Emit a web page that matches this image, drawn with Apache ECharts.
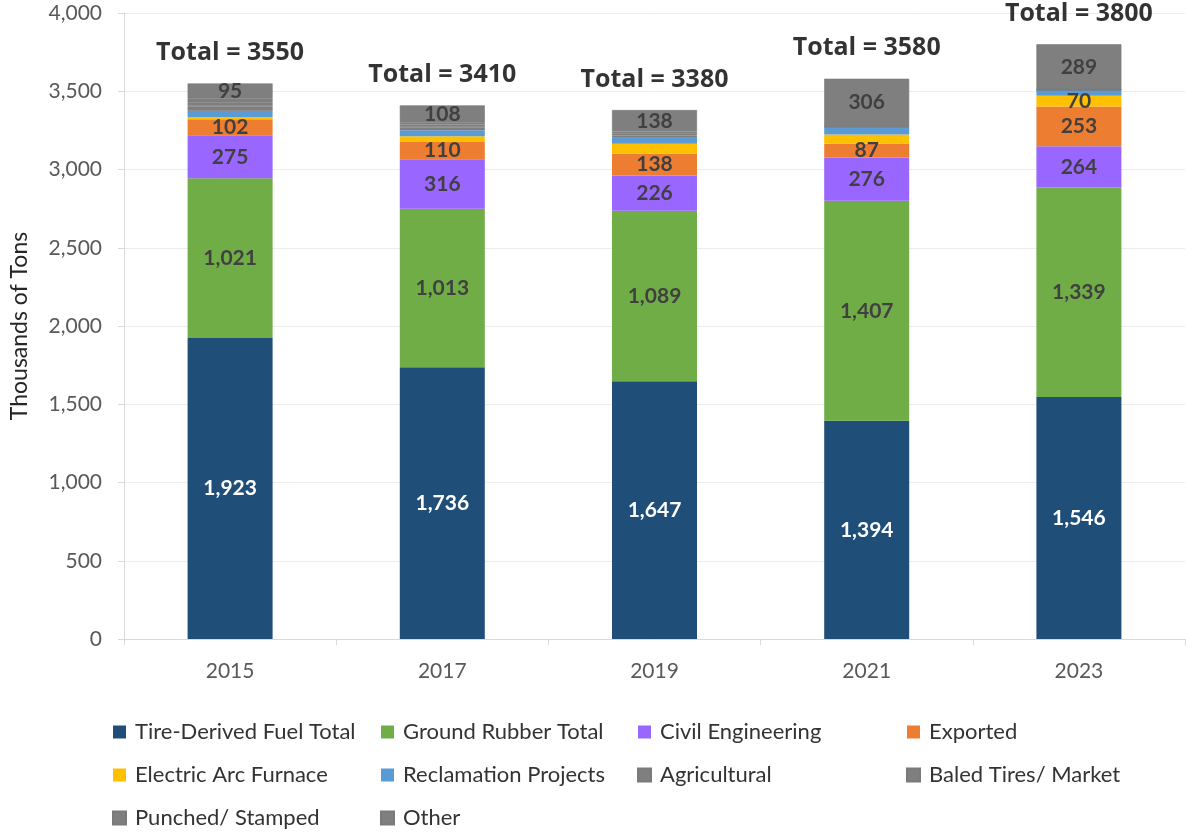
<!DOCTYPE html>
<html><head><meta charset="utf-8">
<script src="https://cdn.jsdelivr.net/npm/echarts@6/dist/echarts.min.js"></script>
<style>html,body{margin:0;padding:0;background:#fff}#c{width:1186px;height:833px}</style>
</head><body><div id="c"></div>
<script>
const years = ['2015','2017','2019','2021','2023'];
const tdf      = [1923, 1736, 1647, 1394, 1546];
const ground   = [1021, 1013, 1089, 1407, 1339];
const civil    = [275, 316, 226, 276, 264];
const exported = [102, 110, 138, 87, 253];
const eaf      = [15, 38, 65, 60, 70];
const reclam   = [39, 38, 38, 45, 36];
const agri     = [30, 20, 15, 2, 1];
const baled    = [25, 16, 12, 2, 1];
const punched  = [25, 15, 12, 1, 1];
const other    = [95, 108, 138, 306, 289];
const totals   = [3550, 3410, 3380, 3580, 3800];

const FONT = 'Lato, "Open Sans", sans-serif';
const defs = [
  ['Tire-Derived Fuel Total', tdf, '#1f4e79', '#ffffff'],
  ['Ground Rubber Total', ground, '#70ad47', '#404040'],
  ['Civil Engineering', civil, '#9966ff', '#404040'],
  ['Exported', exported, '#ed7d31', '#404040'],
  ['Electric Arc Furnace', eaf, '#ffc000', '#404040'],
  ['Reclamation Projects', reclam, '#5b9bd5', '#404040'],
  ['Agricultural', agri, '#7f7f7f', '#404040'],
  ['Baled Tires/ Market', baled, '#7f7f7f', '#404040'],
  ['Punched/ Stamped', punched, '#7f7f7f', '#404040'],
  ['Other', other, '#7f7f7f', '#404040']
];
const series = defs.map(([name, data, color, lc]) => ({
  name, type: 'bar', stack: 'all', data, barWidth: 85,
  itemStyle: color === '#7f7f7f'
    ? {color, borderColor: '#7a7a7a', borderWidth: 0.6}
    : {color},
  label: {
    show: true, position: 'inside', color: lc, fontFamily: FONT,
    fontWeight: 'bold', fontSize: 21,
    formatter: p => p.value >= 70 ? p.value.toLocaleString('en-US') : ''
  }
}));
series.push({
  name: 'totals', type: 'scatter', data: totals, symbolSize: 0,
  label: {show: true, position: 'top', distance: 18, color: '#000',
    fontFamily: '"Open Sans", sans-serif', fontWeight: 'bold', fontSize: 25,
    formatter: p => 'Total = ' + p.value}
});

const cols = [
  [112, ['Tire-Derived Fuel Total', 'Electric Arc Furnace', 'Punched/ Stamped']],
  [380, ['Ground Rubber Total', 'Reclamation Projects', 'Other']],
  [637, ['Civil Engineering', 'Agricultural']],
  [906, ['Exported', 'Baled Tires/ Market']]
];
const legends = cols.map(([x, names]) => ({
  data: names, orient: 'vertical', left: x, top: 720, padding: 0,
  icon: 'rect', itemWidth: 13, itemHeight: 13, itemGap: 19,
  textStyle: {fontFamily: FONT, fontSize: 22, color: '#333333', lineHeight: 24, padding: [0, 0, 0, 4]}
}));

const chart = echarts.init(document.getElementById('c'));
chart.setOption({
  animation: false,
  grid: {left: 120, right: 1, top: 13, bottom: 194},
  legend: legends,
  xAxis: {
    type: 'category', data: years,
    axisLine: {lineStyle: {color: '#d9d9d9'}},
    axisTick: {show: true, length: 6, lineStyle: {color: '#d9d9d9'}},
    axisLabel: {color: '#595959', fontSize: 21, fontFamily: FONT, margin: 22}
  },
  yAxis: {
    type: 'value', min: 0, max: 4000, interval: 500,
    name: 'Thousands of Tons', nameLocation: 'middle', nameGap: 93,
    nameTextStyle: {color: '#262626', fontSize: 23, fontFamily: FONT},
    axisLine: {show: true, lineStyle: {color: '#d9d9d9'}},
    axisTick: {show: true, length: 6, lineStyle: {color: '#d9d9d9'}},
    splitLine: {show: true, lineStyle: {color: '#ececec'}},
    axisLabel: {color: '#595959', fontSize: 21, fontFamily: FONT, margin: 22,
      formatter: v => v.toLocaleString('en-US')}
  },
  series
});
</script></body></html>
